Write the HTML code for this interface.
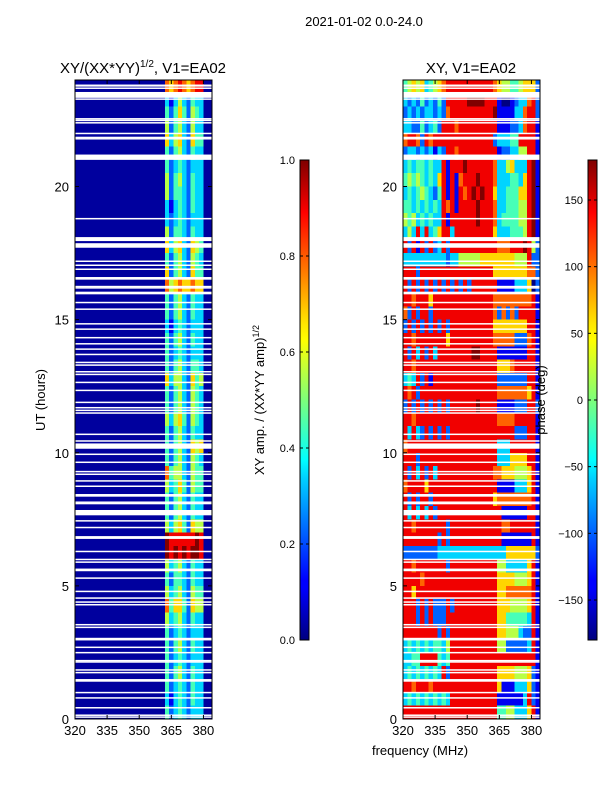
<!DOCTYPE html>
<html><head><meta charset="utf-8">
<style>
html,body{margin:0;padding:0;background:#fff;}
svg{display:block;font-family:"Liberation Sans","DejaVu Sans",sans-serif;}
</style></head>
<body>
<svg id="fig" width="600" height="800" viewBox="0 0 600 800" xmlns="http://www.w3.org/2000/svg">
<defs>
<linearGradient id="jet" x1="0" y1="1" x2="0" y2="0">
<stop offset="0" stop-color="#00007f"/><stop offset="0.11" stop-color="#0000ff"/><stop offset="0.125" stop-color="#0000ff"/>
<stop offset="0.34" stop-color="#00d4ff"/><stop offset="0.375" stop-color="#00ffff"/><stop offset="0.5" stop-color="#7dff7a"/>
<stop offset="0.625" stop-color="#ffff00"/><stop offset="0.66" stop-color="#ffe600"/><stop offset="0.89" stop-color="#ff0000"/><stop offset="1" stop-color="#7f0000"/>
</linearGradient>
</defs>
<text x="364" y="26" font-size="13" text-anchor="middle">2021-01-02 0.0-24.0</text>
<text x="143" y="73" font-size="15" text-anchor="middle">XY/(XX*YY)<tspan font-size="10" dy="-6">1/2</tspan><tspan dy="6">, V1=EA02</tspan></text>
<text x="471" y="73" font-size="15" text-anchor="middle">XY, V1=EA02</text>
<g id="left"></g>
<g id="right"></g>
<text transform="translate(45,400) rotate(-90)" font-size="13" text-anchor="middle">UT (hours)</text>
<text x="420" y="755" font-size="13" text-anchor="middle">frequency (MHz)</text>
<rect x="300" y="160" width="9" height="480" fill="url(#jet)" stroke="#000" stroke-width="1"/>
<rect x="588" y="160" width="9" height="480" fill="url(#jet)" stroke="#000" stroke-width="1"/>
<text transform="translate(264,400) rotate(-90)" font-size="13" text-anchor="middle">XY amp. / (XX*YY amp)<tspan font-size="9" dy="-5">1/2</tspan></text>
<text transform="translate(545,400) rotate(-90)" font-size="13" text-anchor="middle">phase (deg)</text>
<g id="cb"></g>
</svg>
<script>
const ampRows=[
"00000000000000000000076787678800","00000000000000000000031353243300","00000000000000000000042464254300","00000000000000000000052453253300",
"00000000000000000000063563264400","00000000000000000000042453243300","00000000000000000000042343233300","00000000000000000000052453243300",
"00000000000000000000052443243300","00000000000000000000031343243300","00000000000000000000032343233300","00000000000000000000052443243300",
"00000000000000000000063563265400","00000000000000000000042453254300","00000000000000000000062453264400","00000000000000000000075676676600",
"00000000000000000000042453243300","00000000000000000000042453243300","00000000000000000000031343233300","00000000000000000000042453243300",
"00000000000000000000042343233300","00000000000000000000042453244300","00000000000000000000063553264500","00000000000000000000042453254300",
"00000000000000000000042453254300","00000000000000000000053564254300","00000000000000000000042453243300","00000000000000000000042453265600",
"00000000000000000000042453254300","00000000000000000000074553254400","00000000000000000000053464254400","00000000000000000000042453243300",
"00000000000000000000042453243300","00000000000000000000053564265500","00000000000000000000098888889800","00000000000000000000098989899800",
"00000000000000000000053453243300","00000000000000000000042443243300","00000000000000000000053453254400","00000000000000000000074664265500",
"00000000000000000000053453243300","00000000000000000000042343233300","00000000000000000000042453243300","00000000000000000000042343233300",
"00000000000000000000042453243300","00000000000000000000042343243300","00000000000000000000031343243300","00000000000000000000042343233300"];
const phaseRows=[
"4565 6345 6788 8888 8888 8765 5445 6662","3232 4232 4288 8889 9998 8810 0123 3782","2323 2332 3278 8888 8888 8911 1133 7882","3322 4234 2888 7888 8888 8811 1223 7881",
"7887 2878 8888 8888 8888 8233 3448 8881","2332 3231 3288 7888 8888 8812 2335 5881","3434 4343 3818 8898 8888 8733 5633 3891","4545 4343 6818 1788 8988 8733 3443 6891",
"3434 5432 4818 1878 9898 8633 4446 6891","4434 3434 3878 1888 8988 8733 4445 5891","5453 4343 3818 8888 8988 8734 4445 5891","3538 3834 6883 8888 8888 8633 3444 5891",
"8281 8282 3828 8888 8888 8877 7888 9852","3333 3333 3323 3555 5566 6666 6655 5822","8882 8888 8888 8888 8888 8666 6666 6772","8282 8282 8282 8282 8888 8811 1133 3602",
"8878 8868 8888 8888 8888 8777 7777 7781","7282 8828 8888 8888 8888 8727 2728 8881","2828 2828 2828 8888 8888 8666 6666 6881","8878 8888 8868 8888 8888 8777 7722 2781",
"8283 8283 8888 8888 9988 8811 1111 1881","8878 8888 8888 8888 8888 8866 6788 8881","3438 2818 8888 8888 8888 8822 2222 2881","8782 8888 8888 8888 8888 8877 7777 7681",
"2828 2828 2828 8888 8988 8811 1122 2882","8878 8888 8888 8888 8888 8877 7788 8881","8383 2828 2828 8888 8888 8888 8822 2881","7888 8888 8888 8888 8888 8833 3888 8881",
"8882 8888 8888 8888 8888 8833 3666 6881","8283 8283 8888 8888 8888 8776 6655 5681","7888 8688 8888 8888 8888 8811 1133 3681","8282 8828 8888 8888 8888 8677 7777 7781",
"8383 8382 8888 8888 8888 8881 1111 1881","8878 8888 8828 8888 8888 8887 7888 8881","8888 8888 2828 8888 8888 8881 1111 1181","2222 2222 3333 3333 3333 3333 6666 6662",
"8878 8888 8828 8888 8888 8855 3333 3681","8888 7888 8888 8888 8888 8866 6655 5681","8868 8888 8888 8888 8888 8866 7777 7781","8882 8282 2282 8888 8888 8866 6555 5681",
"8882 8282 2288 8888 8888 8866 4444 4381","8888 8888 2828 8888 8888 8866 5553 2281","3434 3434 4358 8888 8888 8855 2222 2381","3344 8888 4348 8888 8888 8888 8888 8881",
"3434 3434 3828 8888 8888 8866 6655 5621","8878 8878 8888 8888 8888 8861 1133 3621","3434 3434 3438 8888 8888 8811 1111 3821","8888 8888 8888 8888 8888 8844 5533 3681"];
const flags=[[23.75,23.83],[23.67,23.72],[23.33,23.55],[23.26,23.31],[22.53,22.57],[22.47,22.51],[22.38,22.42],[21.98,22.02],[21.83,21.87],[21.78,21.82],
[21.0,21.2],[18.78,18.82],[17.95,18.1],[17.7,17.87],[17.18,17.22],[17.03,17.07],[16.88,16.92],[16.5,16.6],[16.23,16.27],[16.18,16.22],[15.95,16.05],
[15.63,15.67],[15.38,15.42],[14.83,14.87],[14.63,14.67],[14.3,14.35],[14.08,14.12],[13.88,13.92],[13.68,13.72],[13.38,13.42],[13.28,13.32],
[13.03,13.07],[12.93,12.97],[12.63,12.67],[12.33,12.37],[11.88,11.92],[11.68,11.72],[11.58,11.62],[11.48,11.52],[10.68,10.72],[10.43,10.47],
[10.15,10.35],[9.93,9.97],[9.63,9.67],[9.28,9.32],[9.18,9.22],[8.93,8.97],[8.73,8.77],[8.35,8.45],[8.13,8.17],[8.08,8.12],[7.65,7.85],
[7.43,7.47],[7.18,7.22],[6.83,6.87],[6.78,6.82],[6.28,6.32],[5.98,6.02],[5.88,5.92],[5.55,5.65],[5.28,5.32],[4.78,4.82],[4.53,4.57],[4.38,4.42],
[4.28,4.32],[3.53,3.57],[3.43,3.47],[2.95,3.05],[2.68,2.72],[2.48,2.52],[2.18,2.22],[2.13,2.17],[1.83,1.87],[1.73,1.77],[1.4,1.5],[0.98,1.02],
[0.78,0.82],[0.4,0.45],[0.13,0.17],[0.06,0.1]];
const xTicks=[320,335,350,365,380];
const yTicks=[0,5,10,15,20];
const ampTicks=["0.0","0.2","0.4","0.6","0.8","1.0"];
const phaseTicks=[-150,-100,-50,0,50,100,150];
const NS='http://www.w3.org/2000/svg';
function jet(v){v=Math.max(0,Math.min(1,v));
 const f=(x)=>Math.max(0,Math.min(1,1.5-Math.abs(4*v-x)));
 return 'rgb('+Math.round(255*f(3))+','+Math.round(255*f(2))+','+Math.round(255*f(1))+')';}
function mk(tag,attrs,parent){const e=document.createElementNS(NS,tag);for(const k in attrs)e.setAttribute(k,attrs[k]);parent.appendChild(e);return e;}
const Y0=80,Y1=719,FMIN=320,FMAX=384;
function panel(gid,x0,x1,rows,valFn){
 const g=document.getElementById(gid);
 const xs=f=>x0+(f-FMIN)/(FMAX-FMIN)*(x1-x0);
 const ys=h=>Y1-h/24*(Y1-Y0);
 const nR=rows.length;
 rows.forEach((raw,i)=>{const r=raw.replace(/ /g,'');const hTop=24-i*24/nR,hBot=24-(i+1)*24/nR;const nC=r.length;
  for(let c=0;c<nC;c++){const fa=FMIN+c*(FMAX-FMIN)/nC,fb=FMIN+(c+1)*(FMAX-FMIN)/nC;
   const e=mk('rect',{x:xs(fa).toFixed(2),y:ys(hTop).toFixed(2),width:(xs(fb)-xs(fa)+0.3).toFixed(2),height:(ys(hBot)-ys(hTop)+0.3).toFixed(2),fill:valFn(+r[c]),'shape-rendering':'crispEdges'},g);
   
   }});
 flags.forEach(fl=>{const e=mk('rect',{x:x0,y:ys(fl[1]).toFixed(2),width:x1-x0,height:Math.max(1.5,ys(fl[0])-ys(fl[1])).toFixed(2),fill:'#fff'},g);
  
  });
 const fr=mk('rect',{x:x0,y:Y0,width:x1-x0,height:Y1-Y0,fill:'none',stroke:'#000','stroke-width':1},g);
 
 
 xTicks.forEach(t=>{const x=xs(t);mk('line',{x1:x,x2:x,y1:Y1,y2:Y1-4,stroke:'#000'},g);mk('line',{x1:x,x2:x,y1:Y0,y2:Y0+4,stroke:'#000'},g);
  const tx=mk('text',{x:x,y:Y1+16,'font-size':13,'text-anchor':'middle'},g);tx.textContent=t;
  
  });
 yTicks.forEach(t=>{const y=ys(t);mk('line',{x1:x0,x2:x0+4,y1:y,y2:y,stroke:'#000'},g);mk('line',{x1:x1,x2:x1-4,y1:y,y2:y,stroke:'#000'},g);
  const tx=mk('text',{x:x0-6,y:y+5,'font-size':13,'text-anchor':'end'},g);tx.textContent=t;
  
  });
}
panel('left',75,212,ampRows,d=>jet(d===0?0.03:d/9));
panel('right',403,540,phaseRows,d=>jet((d*40)/360));
const cb=document.getElementById('cb');
ampTicks.forEach((t,i)=>{const y=640-i/5*480;mk('line',{x1:300,x2:303,y1:y,y2:y,stroke:'#000'},cb);mk('line',{x1:309,x2:306,y1:y,y2:y,stroke:'#000'},cb);
 const tx=mk('text',{x:295,y:y+4,'font-size':11,'text-anchor':'end'},cb);tx.textContent=t;
 
 });
phaseTicks.forEach(t=>{const y=640-(t+180)/360*480;mk('line',{x1:588,x2:591,y1:y,y2:y,stroke:'#000'},cb);mk('line',{x1:597,x2:594,y1:y,y2:y,stroke:'#000'},cb);
 const tx=mk('text',{x:583,y:y+4,'font-size':11,'text-anchor':'end'},cb);tx.textContent=(t<0?'\u2212'+(-t):t);
 
 });
</script>
</body></html>
